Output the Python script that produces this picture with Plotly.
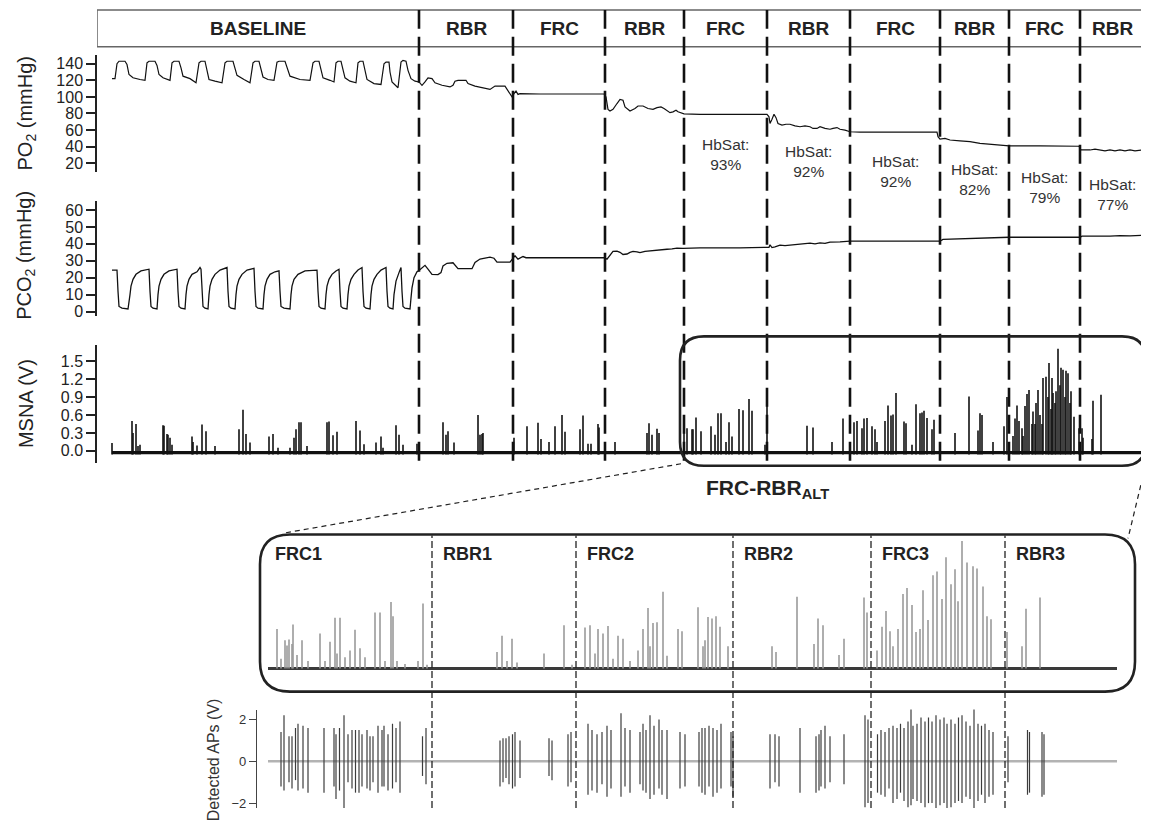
import plotly.graph_objects as go

# ---------------- DATA ----------------
# time axis (s, arbitrary recording units)
phase_labels = ["BASELINE", "RBR", "FRC", "RBR", "FRC", "RBR", "FRC", "RBR", "FRC", "RBR"]
phase_bounds = [419, 513, 605, 684, 767, 850, 940, 1009, 1080]
rec_start, rec_end = 97, 1145
hbsat_vals = ["93%", "92%", "92%", "82%", "79%", "77%"]   # phases 5..10

po2_t = [112, 114, 115, 117, 119, 125, 127, 129, 133, 140, 145,
         147, 149, 155, 157, 159, 163, 170,
         172, 174, 179, 181, 183, 190, 196,
         199, 201, 205, 207, 209, 215, 222,
         225, 227, 233, 235, 237, 244, 250,
         253, 255, 259, 261, 263, 268, 274,
         277, 279, 285, 287, 290, 300, 310,
         313, 315, 319, 321, 323, 330, 334,
         336, 338, 341, 343, 345, 350, 356,
         358, 360, 363, 365, 367, 374, 381,
         384, 386, 389, 390, 392, 395, 398,
         401, 403, 406, 408, 411, 415, 419,
         422, 425, 428, 432, 435, 442, 450, 453, 455, 458, 466, 468, 475, 490, 493, 495, 505, 508, 512, 514, 516, 518, 520,
         540, 560, 580, 604,
         606, 608, 610, 613, 617, 620, 623, 625, 630, 635, 638, 643, 648, 653, 657, 661, 664, 670, 673, 676, 678, 684,
         700, 730, 767,
         769, 770, 772, 774, 776, 778, 782, 786, 790, 795, 800, 805, 810, 813, 817, 820, 825, 830, 833, 837, 840, 845, 850,
         860, 900, 937,
         938, 940, 945, 950, 960, 970, 980, 990, 1000, 1009,
         1040, 1079,
         1081, 1090, 1095, 1100, 1105, 1110, 1115, 1120, 1125, 1130, 1135, 1142]
po2_v = [122, 122.5, 122, 140, 143, 143, 139, 127, 123, 121, 120,
         141, 143, 143, 138, 127, 123, 120,
         141, 143, 143, 135, 125, 122, 117,
         141, 143, 143, 132, 121, 119, 117,
         141, 143, 143, 135, 126, 121, 117,
         141, 143, 143, 133, 124, 121, 120,
         142, 143, 143, 135, 125, 121, 120,
         141, 143, 143, 133, 123, 120, 118,
         141, 143, 143, 132, 123, 119, 117,
         141, 143, 143, 131, 121, 116, 115,
         140, 142, 142, 130, 118, 114, 111,
         142, 144, 143, 132, 122, 119, 118,
         114, 118, 123, 122, 117, 114, 112, 114, 119, 120, 120, 116, 113, 109, 111, 113, 113, 108, 100, 104, 107, 103, 104,
         103.5, 103.6, 103.5, 103.5,
         100, 85, 83, 85, 92, 97, 96, 88, 83, 86, 89, 89, 86, 85, 87, 88, 86, 81, 82, 84, 82, 79.5,
         79, 79, 79,
         76, 68, 73, 79, 75, 68, 66, 67, 67, 65, 64, 65, 64, 62, 62, 64, 62, 61, 62, 63, 61, 60, 58,
         57.5, 57.5, 57.5,
         52, 49, 50, 48, 47, 46, 44, 43, 42, 41,
         41, 40.5,
         36, 36, 37, 36, 35, 36, 35, 36, 35, 36, 35, 36]

pco2_t = [112, 117, 118, 119, 122, 128, 130, 131, 133, 136, 141, 149,
          150, 151, 153, 157, 158, 159, 161, 164, 169, 177,
          178, 179, 181, 185, 186, 187, 189, 192, 197, 200, 201,
          202, 203, 205, 208, 209, 210, 212, 215, 220, 227,
          228, 229, 231, 235, 236, 237, 239, 242, 247, 254,
          255, 256, 258, 263, 264, 265, 267, 270, 275, 279,
          280, 281, 284, 290, 291, 292, 294, 298, 305, 317,
          318, 319, 321, 325, 326, 327, 329, 332, 336, 339,
          340, 341, 343, 347, 348, 349, 351, 354, 358, 362,
          363, 364, 366, 370, 371, 372, 374, 377, 381, 386,
          387, 388, 390, 393, 394, 396, 399, 401,
          402, 403, 405, 410, 411, 412, 414, 417, 419,
          422, 425, 428, 432, 438, 441, 443, 447, 453, 456, 458, 472, 475, 480, 490, 494, 497, 510, 513, 515, 518, 520, 523, 526,
          550, 580, 604,
          607, 610, 613, 617, 620, 623, 627, 630, 633, 637, 640, 645, 653, 660, 667, 672, 677, 683,
          700, 740, 767,
          769, 770, 772, 775, 780, 785, 793, 800, 810, 815, 820, 825, 830, 840, 850,
          880, 910, 940,
          943, 955, 965, 975, 990, 1000, 1009,
          1040, 1080,
          1082, 1090, 1100, 1110, 1120, 1130, 1142]
pco2_v = [24.5, 24.5, 12, 3, 2, 1.5, 10, 15, 19, 22, 24, 25,
          12, 3, 2, 1.5, 10, 15, 19, 22, 24, 25,
          12, 3, 2, 1.5, 10, 15, 19, 22, 23.5, 26, 25,
          12, 3, 2, 1.5, 10, 15, 19, 22, 24.5, 26,
          12, 3, 2, 1.5, 10, 15, 19, 22, 24.5, 25.5,
          12, 3, 2, 1.5, 10, 15, 19, 22, 23.5, 24,
          12, 3, 2, 1.5, 10, 15, 19, 22, 24, 24.5,
          12, 3, 2, 1.5, 10, 15, 19, 22, 24, 25,
          12, 3, 2, 1.5, 10, 15, 19, 22, 24.5, 26,
          12, 3, 2, 1.5, 10, 15, 19, 22, 24.5, 26,
          12, 3, 2, 1.5, 10, 18, 23, 26,
          12, 3, 2, 1.5, 8, 14, 20, 23.5, 24.3,
          26, 27.3, 25, 22, 21.8, 23, 27, 28.5, 28.8, 27, 25.3, 25.3, 29, 31, 32.1, 31.5, 29.2, 29.2, 31.5, 33, 31, 31.5, 32.5, 31.8,
          31.8, 31.8, 31.8,
          31, 33, 35.5, 35.7, 35, 33.7, 34, 35, 35.5, 35.3, 34.8, 35.5, 36.1, 36.4, 36.8, 37, 37.5, 37.3,
          37.6, 37.6, 37.6,
          38, 39.4, 37.8, 38.2, 39.2, 39, 39.4, 39.8, 40.4, 40, 40.6, 40.3, 41, 41.2, 41.6,
          41.6, 41.6, 41.6,
          42.6, 42.9, 43.1, 43.4, 43.7, 43.8, 43.9,
          43.9, 43.9,
          44.6, 44.5, 44.8, 44.6, 44.9, 44.7, 45]

msna_start, msna_end, msna_baseline = 112, 1142, -0.03
msna_t = [112, 132, 133, 136, 138, 140,
          163, 164, 167, 168, 170, 172,
          192, 193, 197, 202, 206, 215,
          239, 243, 246, 250,
          269, 273, 278, 290,
          294, 296, 299, 301, 307,
          327, 329, 333, 337,
          356, 360, 364,
          376, 381, 383,
          396, 399, 403,
          417,
          443, 446, 448, 454,
          478, 480, 482, 483,
          514,
          527, 538, 541, 549, 555, 562, 565,
          580, 583, 588, 591, 598, 599,
          615,
          647, 649, 652, 657, 659,
          684, 687, 692, 693, 696, 701, 711, 715, 718, 721, 726, 729, 732, 739, 743, 749, 752, 765, 767,
          807, 813, 832, 843,
          854, 857, 862, 864, 867, 872, 875, 877, 885, 888, 891, 893, 896, 904, 906, 912, 916, 920, 922, 924, 927, 932, 934,
          955, 969, 978, 980, 982, 993, 1004, 1007,
          1013, 1015, 1017, 1019, 1022, 1023, 1025, 1027, 1029, 1032, 1033, 1035, 1036, 1038, 1040, 1042, 1043, 1046, 1048,
          1049, 1051, 1052, 1053, 1055, 1056, 1058, 1060, 1061, 1063, 1065, 1066, 1068, 1070, 1071, 1074, 1079, 1082, 1083,
          1092, 1093, 1101]
msna_a = [0.13, 0.5, 0.3, 0.45, 0.08, 0.1,
          0.43, 0.42, 0.28, 0.27, 0.22, 0.1,
          0.24, 0.15, 0.09, 0.44, 0.33, 0.08,
          0.36, 0.69, 0.28, 0.14,
          0.24, 0.28, 0.05, 0.05,
          0.22, 0.36, 0.48, 0.48, 0.08,
          0.48, 0.49, 0.26, 0.32,
          0.5, 0.34, 0.11,
          0.14, 0.24, 0.05,
          0.43, 0.27, 0.1,
          0.12,
          0.48, 0.27, 0.33, 0.14,
          0.6, 0.27, 0.28, 0.3,
          0.22,
          0.41, 0.47, 0.2, 0.15, 0.41, 0.6, 0.32,
          0.36, 0.59, 0.12, 0.12, 0.45, 0.39,
          0.15,
          0.3, 0.46, 0.27, 0.37, 0.3,
          0.49, 0.38, 0.36, 0.36, 0.56, 0.33, 0.41, 0.27, 0.63, 0.63, 0.15, 0.48, 0.24, 0.7, 0.68, 0.87, 0.67, 0.1, 0.82,
          0.42, 0.39, 0.15, 0.54,
          0.48, 0.5, 0.38, 0.54, 0.55, 0.41, 0.36, 0.15, 0.5, 0.76, 0.59, 0.61, 0.97, 0.49, 0.46, 0.1, 0.78, 0.63, 0.64, 0.67, 0.55, 0.36, 0.52,
          0.3, 0.91, 0.34, 0.63, 0.6, 0.15, 0.41, 0.9,
          0.25, 0.54, 0.76, 0.5, 0.38, 0.25, 0.75, 0.95, 1.02, 0.45, 0.66, 0.45, 0.8, 1.02, 0.6, 0.45, 1.22, 1.24, 0.9,
          1.47, 0.7, 1.22, 0.97, 0.8, 1.0, 1.71, 1.1, 1.39, 1.36, 0.9, 1.34, 1.3, 0.8, 1.0, 0.57, 0.38, 0.38, 0.22,
          0.2, 0.84, 0.94]

# FRC-RBR alternation (expanded view)
alt_labels = ["FRC1", "RBR1", "FRC2", "RBR2", "FRC3", "RBR3"]
alt_bounds = [432, 576, 733, 871, 1005]
alt_start, alt_end = 268, 1117
alt_t = [277, 281, 285, 287, 289, 292, 293, 297, 302, 308, 320, 325, 330, 335, 337, 340, 345, 350, 355, 360, 365,
         375, 380, 385, 391, 393, 397, 405, 418, 423, 427,
         497, 502, 507, 512, 517, 544, 564,
         572, 585, 590, 595, 598, 603, 608, 613, 618, 623, 630, 638, 643, 648, 650, 653, 657, 663, 667, 678, 682,
         698, 703, 705, 708, 712, 716, 720, 728,
         772, 776, 797, 814, 818, 823, 839, 844, 864, 867,
         877, 882, 886, 890, 893, 898, 903, 907, 912, 916, 920, 923, 928, 933, 937, 942, 946, 951, 955, 958, 962,
         967, 973, 977, 983, 987, 991,
         1007, 1022, 1026, 1040]
alt_a = [0.53, 0.13, 0.38, 0.31, 0.39, 0.33, 0.59, 0.18, 0.38, 0.1, 0.47, 0.1, 0.36, 0.68, 0.2, 0.68, 0.15, 0.24, 0.52, 0.27, 0.15,
         0.75, 0.75, 0.1, 0.89, 0.7, 0.1, 0.06, 0.1, 0.87, 0.05,
         0.22, 0.44, 0.1, 0.4, 0.08, 0.2, 0.58,
         0.05, 0.55, 0.58, 0.2, 0.53, 0.47, 0.57, 0.13, 0.44, 0.4, 0.1, 0.24, 0.53, 0.81, 0.3, 0.61, 0.62, 1.03, 0.17, 0.53, 0.5,
         0.82, 0.3, 0.38, 0.69, 0.67, 0.7, 0.56, 0.3,
         0.3, 0.22, 0.96, 0.33, 0.67, 0.58, 0.18, 0.4, 0.95, 0.75,
         0.24, 0.56, 0.77, 0.5, 0.3, 0.53, 1.0, 1.08, 0.85, 0.49, 0.53, 1.05, 0.65, 1.25, 1.3, 0.93, 1.49, 1.13, 1.33, 0.9, 1.71,
         1.42, 1.37, 1.34, 1.1, 0.7, 0.66,
         0.49, 0.3, 0.8, 0.95]

# detected action potentials: time, positive peak, negative trough (V)
ap_t = [281, 284, 289, 292, 295.5, 298, 303, 308, 324, 334, 336, 339.5, 344, 348, 352, 355.5, 359, 362, 367, 370, 373,
        378, 382, 384, 388, 392.5, 396, 400, 422.5, 426,
        500, 503, 506, 509, 512.5, 515, 520, 549, 552, 568, 571,
        588, 592, 597, 602, 607, 611, 621, 625, 630, 640, 643, 646, 650, 654, 659, 662, 667, 680, 685,
        699, 702, 705, 709, 713, 717, 721, 731, 733,
        770, 775, 779, 800, 816, 819, 821, 825, 830, 844, 865, 868,
        877.5, 881, 885, 889, 893, 897, 900.5, 904, 908, 911, 913, 917, 921, 925, 928.5, 932, 936, 940, 944, 947,
        951, 955, 958.5, 962, 966, 970, 974, 978, 981.5, 985, 989, 993,
        1008, 1027.5, 1029.5, 1042, 1044]
ap_pos = [1.4, 2.2, 1.2, 1.2, 1.6, 1.8, 1.7, 1.6, 1.6, 1.6, 1.3, 1.6, 2.2, 1.3, 1.5, 1.5, 1.5, 1.3, 1.5, 1.2, 1.2,
          1.7, 1.5, 1.7, 1.3, 1.8, 1.6, 1.9, 1.2, 1.6,
          1.0, 1.1, 1.1, 1.2, 1.3, 1.4, 1.0, 1.1, 1.0, 1.3, 1.4,
          1.8, 1.5, 1.3, 1.4, 1.7, 1.5, 2.3, 1.6, 1.5, 1.4, 1.8, 1.5, 2.2, 1.7, 2.0, 1.5, 1.5, 1.4, 1.3,
          1.4, 1.6, 1.6, 1.7, 1.6, 1.5, 1.8, 1.4, 1.2,
          1.3, 1.3, 1.2, 1.6, 1.2, 1.3, 1.5, 1.7, 1.2, 1.3, 2.2, 2.0,
          1.3, 1.5, 1.4, 1.6, 1.7, 1.6, 1.8, 1.6, 1.9, 3.2, 1.7, 1.8, 2.1, 1.9, 2.1, 1.9, 2.2, 2.0, 2.1, 1.8,
          2.0, 1.8, 2.1, 2.2, 1.9, 1.7, 2.8, 1.8, 1.7, 1.8, 1.5, 1.4,
          1.2, 1.5, 1.4, 1.4, 1.3]
ap_neg = [-1.2, -1.4, -1.0, -1.3, -0.9, -1.4, -1.3, -1.5, -1.5, -1.2, -1.8, -1.4, -2.3, -1.0, -1.3, -1.5, -1.5, -1.2, -1.3, -1.4, -1.0,
          -1.5, -1.2, -1.2, -1.4, -1.3, -1.0, -1.5, -0.7, -1.1,
          -1.2, -1.0, -0.8, -1.1, -1.3, -1.2, -0.8, -0.7, -0.9, -1.2, -1.0,
          -1.6, -1.4, -1.5, -1.1, -1.7, -1.3, -1.7, -1.2, -1.5, -1.1, -1.4, -1.5, -1.8, -1.6, -1.3, -1.6, -1.8, -1.3, -1.2,
          -1.2, -1.5, -1.6, -1.2, -1.7, -1.5, -1.3, -1.2, -1.7,
          -1.3, -1.0, -1.2, -1.5, -1.5, -1.4, -1.2, -1.3, -1.0, -1.1, -2.2, -2.0,
          -1.5, -1.6, -1.7, -1.3, -2.0, -1.8, -1.5, -1.9, -2.2, -2.1, -1.8, -1.9, -2.0, -2.2, -2.0, -2.0, -2.4, -2.1, -2.0, -2.7,
          -2.2, -2.0, -1.9, -2.0, -1.7, -1.8, -2.5, -1.9, -1.6, -2.0, -1.7, -1.6,
          -1.0, -1.6, -1.5, -1.7, -1.6]

# ---------------- FIGURE ----------------
PAGE_OFF = 8                       # default body margin of the html page
W, H = 1149 - PAGE_OFF, 830 - PAGE_OFF
FONT = "Liberation Sans, Arial, Helvetica, sans-serif"
INK = "#222222"


def px(x):
    return (x - PAGE_OFF) / W


def py(y):
    return 1 - (y - PAGE_OFF) / H


def stems(ts, lo, hi):
    xs, ys = [], []
    for i, t in enumerate(ts):
        a = lo[i] if isinstance(lo, list) else lo
        xs += [t, t, None]
        ys += [a, hi[i], None]
    return xs, ys


fig = go.Figure()

# PO2
fig.add_trace(go.Scatter(x=po2_t, y=po2_v, mode="lines", xaxis="x", yaxis="y",
                         line=dict(color="#111", width=1.2)))
# PCO2
fig.add_trace(go.Scatter(x=pco2_t, y=pco2_v, mode="lines", xaxis="x", yaxis="y2",
                         line=dict(color="#111", width=1.3)))
# MSNA overview
fig.add_trace(go.Scatter(x=[msna_start, msna_end], y=[msna_baseline, msna_baseline], mode="lines",
                         xaxis="x", yaxis="y3", line=dict(color="#111", width=3.2)))
sx, sy = stems(msna_t, msna_baseline - 0.03, msna_a)
fig.add_trace(go.Scatter(x=sx, y=sy, mode="lines", xaxis="x", yaxis="y3",
                         line=dict(color="#111", width=1.6)))

# expanded MSNA
fig.add_trace(go.Scatter(x=[alt_start, alt_end], y=[0, 0], mode="lines", xaxis="x2", yaxis="y4",
                         line=dict(color="#3a3a3a", width=3)))
lx, ly = stems(alt_t, 0, alt_a)
fig.add_trace(go.Scatter(x=lx, y=ly, mode="lines", xaxis="x2", yaxis="y4",
                         line=dict(color="#9a9a9a", width=1.6)))

# detected APs
fig.add_trace(go.Scatter(x=[alt_start, alt_end], y=[0, 0], mode="lines", xaxis="x2", yaxis="y5",
                         line=dict(color="#b3b3b3", width=2.5)))
ax, ay = stems(ap_t, ap_neg, ap_pos)
fig.add_trace(go.Scatter(x=ax, y=ay, mode="lines", xaxis="x2", yaxis="y5",
                         line=dict(color="#3c3c3c", width=1.2)))

yax_common = dict(showgrid=False, zeroline=False, showline=True, linecolor=INK, linewidth=1.5,
                  ticks="outside", ticklen=9, tickwidth=1.5, tickcolor=INK,
                  tickfont=dict(family=FONT, size=16, color=INK), anchor="x", fixedrange=True)

fig.update_layout(
    width=W, height=H, autosize=False,
    margin=dict(l=0, r=0, t=0, b=0),
    paper_bgcolor="white", plot_bgcolor="rgba(0,0,0,0)",
    showlegend=False,
    font=dict(family=FONT, color=INK),
    xaxis=dict(domain=[px(rec_start), px(rec_end)], range=[rec_start, rec_end], visible=False, fixedrange=True),
    yaxis=dict(domain=[py(173), py(55)], range=[9.2, 150.8],
               tickvals=[20, 40, 60, 80, 100, 120, 140], **yax_common),
    yaxis2=dict(domain=[py(318), py(202)], range=[-2.94, 65.3],
                tickvals=[0, 10, 20, 30, 40, 50, 60], **yax_common),
    yaxis3=dict(domain=[py(465), py(347)], range=[-0.2, 1.7667],
                tickvals=[0, 0.3, 0.6, 0.9, 1.2, 1.5], tickformat=".1f", **yax_common),
    xaxis2=dict(domain=[px(257), px(1125)], range=[257, 1125], visible=False, anchor="y5", fixedrange=True),
    yaxis4=dict(domain=[py(692), py(542)], range=[-0.27, 1.73], visible=False, anchor="x2", fixedrange=True),
    yaxis5=dict(domain=[py(812), py(713)], range=[-2.238, 2.476], anchor="x2",
                showgrid=False, zeroline=False, showline=True, linecolor="#444", linewidth=1.2,
                ticks="outside", ticklen=7, tickwidth=1.2, tickcolor="#444",
                tickvals=[-2, 0, 2], tickfont=dict(family=FONT, size=13, color="#333"), fixedrange=True),
)

shapes = []
# header bar
shapes.append(dict(type="rect", xref="x", yref="paper", x0=rec_start, x1=rec_end, y0=py(47), y1=py(10),
                   line=dict(color="#666", width=1.5), fillcolor="white", layer="below"))
# phase boundaries (top)
for b in phase_bounds:
    shapes.append(dict(type="line", xref="x", yref="paper", x0=b, x1=b, y0=py(463), y1=py(10),
                       line=dict(color="#111", width=2.6, dash="19px,8px")))


def rounded(x0, y0, x1, y1, r):
    rx, ry = r / W, r / H
    X0, X1, Yt, Yb = px(x0), px(x1), py(y0), py(y1)
    return (f"M {X0+rx},{Yt} L {X1-rx},{Yt} Q {X1},{Yt} {X1},{Yt-ry} "
            f"L {X1},{Yb+ry} Q {X1},{Yb} {X1-rx},{Yb} L {X0+rx},{Yb} Q {X0},{Yb} {X0},{Yb+ry} "
            f"L {X0},{Yt-ry} Q {X0},{Yt} {X0+rx},{Yt} Z")


shapes.append(dict(type="path", xref="paper", yref="paper", path=rounded(680, 338, 1146, 468, 24),
                   line=dict(color="#222", width=2.6)))
shapes.append(dict(type="path", xref="paper", yref="paper", path=rounded(260, 537, 1135, 695, 30),
                   line=dict(color="#222", width=2.6)))
# zoom connectors
shapes.append(dict(type="line", xref="paper", yref="paper", x0=px(681), y0=py(466), x1=px(282), y1=py(536),
                   line=dict(color="#222", width=1.2, dash="5px,4px")))
shapes.append(dict(type="line", xref="paper", yref="paper", x0=px(1145), y0=py(470), x1=px(1128), y1=py(541),
                   line=dict(color="#222", width=1.2, dash="5px,4px")))
# phase boundaries (expanded)
for b in alt_bounds:
    shapes.append(dict(type="line", xref="x2", yref="paper", x0=b, x1=b, y0=py(812), y1=py(538),
                       line=dict(color="#222", width=1.3, dash="7px,3px")))
fig.update_layout(shapes=shapes)

ann = []
edges = [rec_start] + phase_bounds + [rec_end]
for i, lab in enumerate(phase_labels):
    ann.append(dict(x=(edges[i] + edges[i + 1]) / 2, y=py(29), xref="x", yref="paper",
                    xanchor="center", yanchor="middle",
                    text=f"<b>{lab}</b>", showarrow=False, font=dict(size=19, color=INK, family=FONT)))
hb_top = [135, 142, 152, 160, 168, 175]
for k, v in enumerate(hbsat_vals):
    i = 4 + k
    ann.append(dict(x=(edges[i] + edges[i + 1]) / 2, y=py(hb_top[k]), xref="x", yref="paper",
                    xanchor="center", yanchor="top", text=f"HbSat:<br>{v}", showarrow=False,
                    font=dict(size=15.5, color="#333", family=FONT)))
# y-axis titles
for txt, yc in [("PO<sub>2</sub> (mmHg)", 114), ("PCO<sub>2</sub> (mmHg)", 257), ("MSNA (V)", 406)]:
    ann.append(dict(x=px(26), y=py(yc), xref="paper", yref="paper", text=txt, textangle=-90,
                    xanchor="center", yanchor="middle",
                    showarrow=False, font=dict(size=20, color=INK, family=FONT)))
ann.append(dict(x=px(213), y=py(764), xref="paper", yref="paper", text="Detected APs (V)", textangle=-90,
                xanchor="center", yanchor="middle",
                showarrow=False, font=dict(size=16, color="#333", family=FONT)))
ann.append(dict(x=px(767), y=py(491), xref="paper", yref="paper", text="<b>FRC-RBR<sub>ALT</sub></b>",
                xanchor="center", yanchor="middle",
                showarrow=False, font=dict(size=21, color=INK, family=FONT)))
alt_edges = [alt_start] + alt_bounds
for i, lab in enumerate(alt_labels):
    ann.append(dict(x=alt_edges[i] + (5 if i == 0 else 9), y=py(557), xref="x2", yref="paper",
                    xanchor="left", yanchor="middle",
                    text=f"<b>{lab}</b>", showarrow=False, font=dict(size=18, color=INK, family=FONT)))
fig.update_layout(annotations=ann)

fig.write_html("out.html", config={"displayModeBar": False})
